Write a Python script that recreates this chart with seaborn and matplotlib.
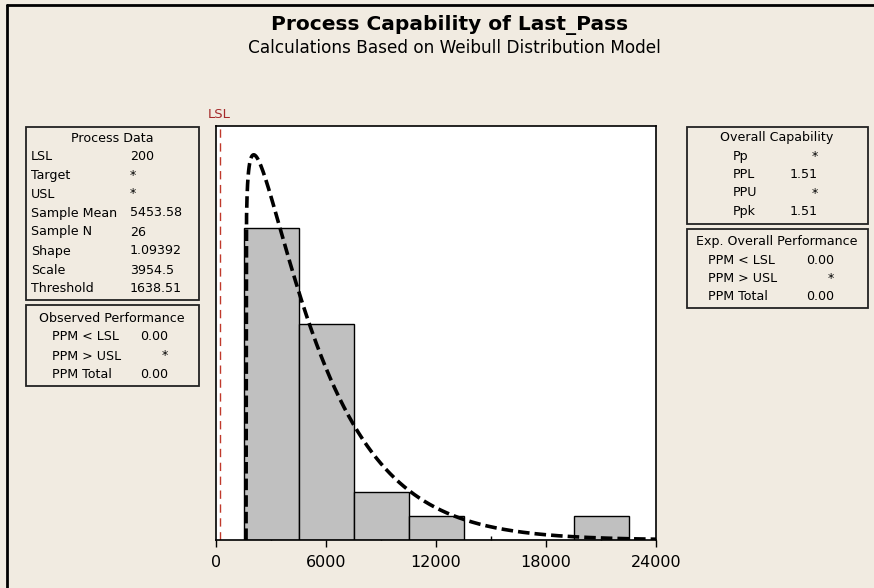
import numpy as np
import seaborn as sns
import matplotlib.pyplot as plt
from matplotlib.patches import Rectangle
from matplotlib.lines import Line2D

# histogram (26 samples, bin width 3000)
bin_edges = [1500, 4500, 7500, 10500, 13500, 16500, 19500, 22500]
bin_counts = [13, 9, 2, 1, 0, 0, 1]

# fitted 3-parameter Weibull shown in the Process Data box
lsl = 200
shape = 1.09392
scale = 3954.5
threshold = 1638.51

x_ticks = [0, 6000, 12000, 18000, 24000]
x_max = 24000
y_max = 2.21e-4

process_data = [("LSL", "200"), ("Target", "*"), ("USL", "*"),
                ("Sample Mean", "5453.58"), ("Sample N", "26"),
                ("Shape", "1.09392"), ("Scale", "3954.5"),
                ("Threshold", "1638.51")]
observed = [("PPM < LSL", "0.00"), ("PPM > USL", "*"), ("PPM Total", "0.00")]
overall_cap = [("Pp", "*"), ("PPL", "1.51"), ("PPU", "*"), ("Ppk", "1.51")]
expected = [("PPM < LSL", "0.00"), ("PPM > USL", "*"), ("PPM Total", "0.00")]

bg = "#F1EBE1"
sns.set_style("white")
plt.rcParams["font.family"] = ["DejaVu Sans"]
plt.rcParams["text.color"] = "black"

W, H = 874, 588
fig = plt.figure(figsize=(W / 100, H / 100), dpi=100, facecolor=bg)


def fx(px):
    return px / W


def fy(py):
    return 1 - py / H


ax = fig.add_axes([fx(216), fy(540), 440 / W, 414 / H])
ax.set_facecolor("white")

centers = [(a + b) / 2 for a, b in zip(bin_edges[:-1], bin_edges[1:])]
sns.histplot(x=centers, weights=bin_counts, bins=bin_edges, stat="density",
             color="#C0C0C0", edgecolor="black", linewidth=1, alpha=1, ax=ax)

# Weibull density from the fitted parameters
xc = np.linspace(threshold, x_max, 800)
t = (xc - threshold) / scale
pdf = shape / scale * t ** (shape - 1) * np.exp(-t ** shape)
sns.lineplot(x=xc, y=pdf, color="black", lw=2.6, ax=ax, sort=False)
ax.lines[-1].set_linestyle((0, (3.2, 1.4)))

ax.axvline(lsl, color="#C0392B", lw=1, ls=(0, (6, 4)))
ax.text(lsl, y_max * 1.012, "LSL", color="#A52A2A", fontsize=9.5,
        ha="center", va="bottom")

ax.set_xlim(0, x_max)
ax.set_ylim(0, y_max)
ax.set_xticks(x_ticks)
ax.set_xticklabels([str(v) for v in x_ticks])
ax.set_xticks(np.arange(3000, x_max, 6000), minor=True)
ax.set_yticks([])
ax.set_ylabel("")
ax.tick_params(axis="x", which="both", bottom=True, width=1, color="black")
ax.tick_params(axis="x", which="major", direction="out", length=5,
               labelsize=11.5, pad=6, labelcolor="black")
ax.tick_params(axis="x", which="minor", direction="in", length=3)
for s in ax.spines.values():
    s.set_color("black")
    s.set_linewidth(1.2)

# titles
fig.text(fx(450), fy(25), "Process Capability of Last_Pass", ha="center",
         va="center", fontsize=14.5, fontweight="bold")
fig.text(fx(454), fy(48), "Calculations Based on Weibull Distribution Model",
         ha="center", va="center", fontsize=12.2)


def box(x0, y0, x1, y1):
    fig.add_artist(Rectangle((fx(x0), fy(y1)), (x1 - x0) / W, (y1 - y0) / H,
                             transform=fig.transFigure, fill=False,
                             edgecolor="#222222", lw=1.3))


def table(rows, y_start, lab_x, val_x, val_ha, step=19, fs=9.1):
    for i, (lab, val) in enumerate(rows):
        y = fy(y_start + i * step)
        fig.text(fx(lab_x), y, lab, ha="left", va="center", fontsize=fs)
        fig.text(fx(val_x), y, val, ha=val_ha, va="center", fontsize=fs)


# left side
box(26, 127, 199, 300)
fig.text(fx(112), fy(138), "Process Data", ha="center", va="center", fontsize=9.1)
table(process_data, 156, 31, 130, "left")

box(26, 305, 199, 386)
fig.text(fx(112), fy(319), "Observed Performance", ha="center", va="center", fontsize=9.1)
table(observed, 337, 52, 168, "right")

# right side
box(687, 127, 868, 224)
fig.text(fx(777), fy(138), "Overall Capability", ha="center", va="center", fontsize=9.1)
table(overall_cap, 156, 733, 818, "right", step=18.5)

box(687, 229, 868, 308)
fig.text(fx(777), fy(242), "Exp. Overall Performance", ha="center", va="center", fontsize=9.1)
table(expected, 260, 708, 834, "right", step=18.5)

# outer frame edges (top and left)
fig.add_artist(Line2D([fx(7), 1], [fy(5), fy(5)], transform=fig.transFigure,
                      color="black", lw=2))
fig.add_artist(Line2D([fx(7), fx(7)], [fy(5), 0], transform=fig.transFigure,
                      color="black", lw=2))

fig.savefig("out.png", dpi=100, facecolor=bg)
